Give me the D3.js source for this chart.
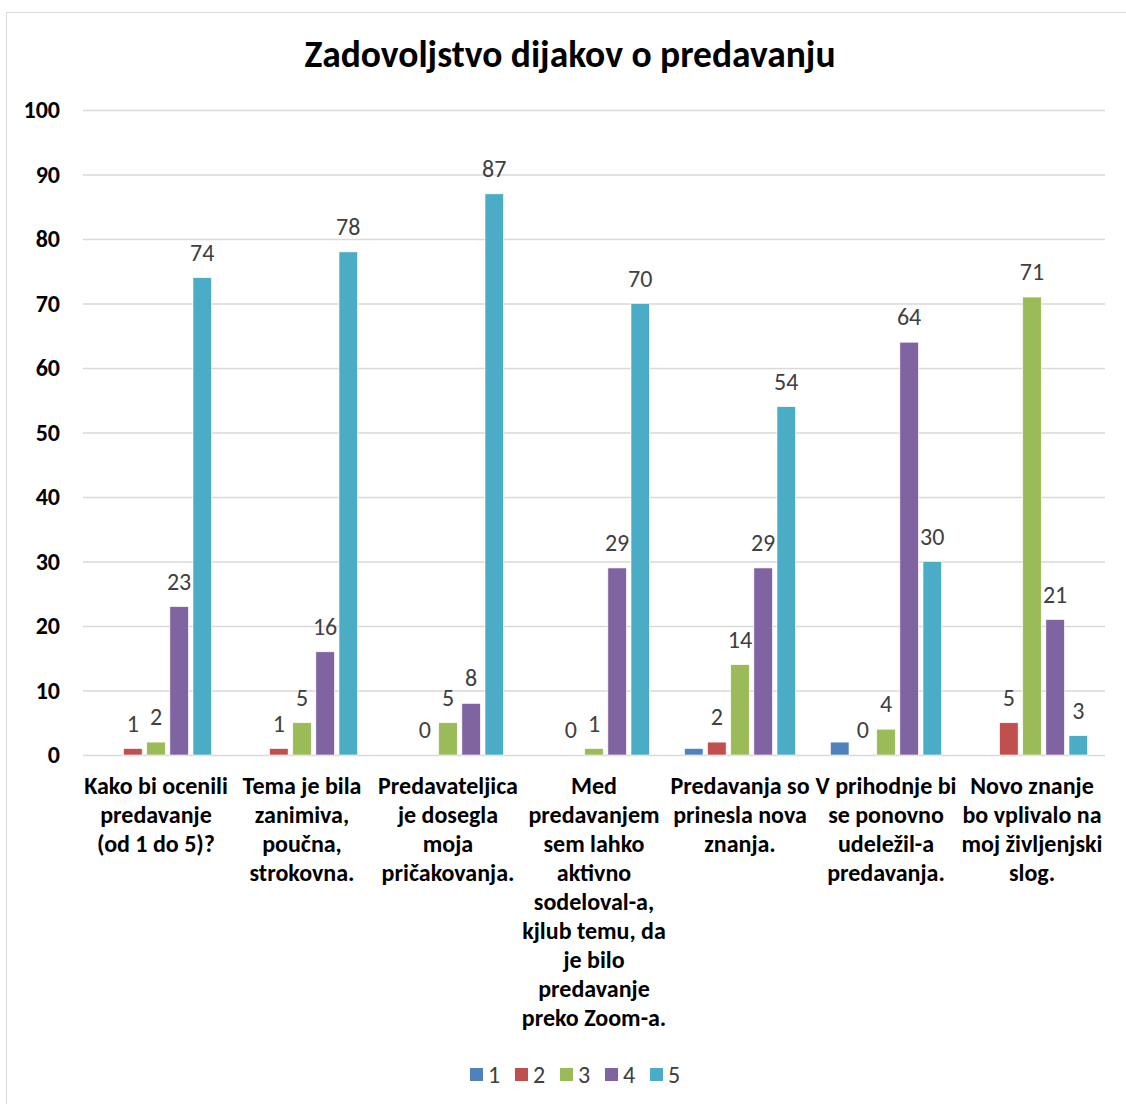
<!DOCTYPE html>
<html>
<head>
<meta charset="utf-8">
<script src="https://cdn.jsdelivr.net/npm/d3@7"></script>
<style>
  body { margin: 0; background: #fff; }
  text { font-family: Carlito, Lato, "Open Sans", sans-serif; }
</style>
</head>
<body>
<div id="chart"></div>
<script>
// categories (each label split into its wrapped lines)
const categories = [
  ["Kako bi ocenili", "predavanje", "(od 1 do 5)?"],
  ["Tema je bila", "zanimiva,", "poučna,", "strokovna."],
  ["Predavateljica", "je dosegla", "moja", "pričakovanja."],
  ["Med", "predavanjem", "sem lahko", "aktivno", "sodeloval-a,", "kjlub temu, da", "je bilo", "predavanje", "preko Zoom-a."],
  ["Predavanja so", "prinesla nova", "znanja."],
  ["V prihodnje bi", "se ponovno", "udeležil-a", "predavanja."],
  ["Novo znanje", "bo vplivalo na", "moj življenjski", "slog."]
];
const seriesNames = ["1", "2", "3", "4", "5"];
const seriesColors = ["#4F81BD", "#C0504D", "#9BBB59", "#8064A2", "#4BACC6"];
const showLabels = [false, true, true, true, true];

const s1 = [null, null, null, null, 1, 2, null];
const s2 = [1, 1, 0, 0, 2, 0, 5];
const s3 = [2, 5, 5, 1, 14, 4, 71];
const s4 = [23, 16, 8, 29, 29, 64, 21];
const s5 = [74, 78, 87, 70, 54, 30, 3];
const series = [s1, s2, s3, s4, s5];

const yTicks = [0, 10, 20, 30, 40, 50, 60, 70, 80, 90, 100];
const title = "Zadovoljstvo dijakov o predavanju";

const width = 1126, height = 1104;
const margin = {left: 83, right: 21, top: 110, bottom: 349};

const svg = d3.select("#chart").append("svg")
  .attr("width", width)
  .attr("height", height);

// chart frame
svg.append("rect")
  .attr("x", 6.5).attr("y", 12.5)
  .attr("width", 1140).attr("height", 1110)
  .attr("fill", "none").attr("stroke", "#d9d9d9");

const x0 = d3.scaleBand()
  .domain(d3.range(categories.length))
  .range([margin.left, width - margin.right])
  .padding(0);

const x1 = d3.scaleBand()
  .domain(d3.range(seriesNames.length))
  .range([17.5, x0.bandwidth() - 17.5])
  .paddingInner(0.2);

const yScale = d3.scaleLinear()
  .domain([0, 100])
  .range([height - margin.bottom, margin.top]);

// title
svg.append("text")
  .attr("x", 570).attr("y", 67)
  .attr("text-anchor", "middle")
  .attr("font-size", 37.5).attr("font-weight", "bold")
  .attr("fill", "#000")
  .text(title);

// gridlines + y labels
const yAxis = svg.append("g")
  .attr("transform", `translate(${margin.left},0)`)
  .call(d3.axisLeft(yScale).tickValues(yTicks)
    .tickSize(-(width - margin.left - margin.right)).tickPadding(23));
yAxis.select(".domain").remove();
yAxis.selectAll(".tick line").attr("stroke", "#d9d9d9").attr("stroke-width", 1.5);
yAxis.selectAll(".tick text")
  .attr("font-size", 24).attr("font-weight", "bold")
  .attr("fill", "#000").attr("font-family", "Carlito, Lato, sans-serif");

// bars
series.forEach((vals, si) => {
  const g = svg.append("g");
  vals.forEach((v, ci) => {
    if (v === null) return;
    const bx = x0(ci) + x1(si);
    g.append("rect")
      .attr("x", bx)
      .attr("y", yScale(v))
      .attr("width", x1.bandwidth())
      .attr("height", yScale(0) - yScale(v))
      .attr("fill", seriesColors[si])
      .attr("stroke", "#fff").attr("stroke-width", 0.6);
    if (showLabels[si]) {
      g.append("text")
        .attr("x", bx + x1.bandwidth() / 2)
        .attr("y", yScale(v) - 17)
        .attr("text-anchor", "middle")
        .attr("font-size", 24)
        .attr("fill", "#404040")
        .text(v);
    }
  });
});

// category labels
const xl = svg.append("g");
categories.forEach((lines, ci) => {
  const cx = x0(ci) + x0.bandwidth() / 2;
  const t = xl.append("text")
    .attr("text-anchor", "middle")
    .attr("font-size", 24).attr("font-weight", "bold")
    .attr("fill", "#000");
  lines.forEach((ln, i) => {
    t.append("tspan")
      .attr("x", cx)
      .attr("y", 794 + i * 29)
      .text(ln);
  });
});

// legend
const legend = svg.append("g").attr("transform", "translate(470,1068)");
seriesNames.forEach((name, i) => {
  const lg = legend.append("g").attr("transform", `translate(${i * 45},0)`);
  lg.append("rect").attr("width", 13).attr("height", 13).attr("fill", seriesColors[i]);
  lg.append("text").attr("x", 18).attr("y", 15)
    .attr("font-size", 24).attr("fill", "#404040").text(name);
});
</script>
</body>
</html>
